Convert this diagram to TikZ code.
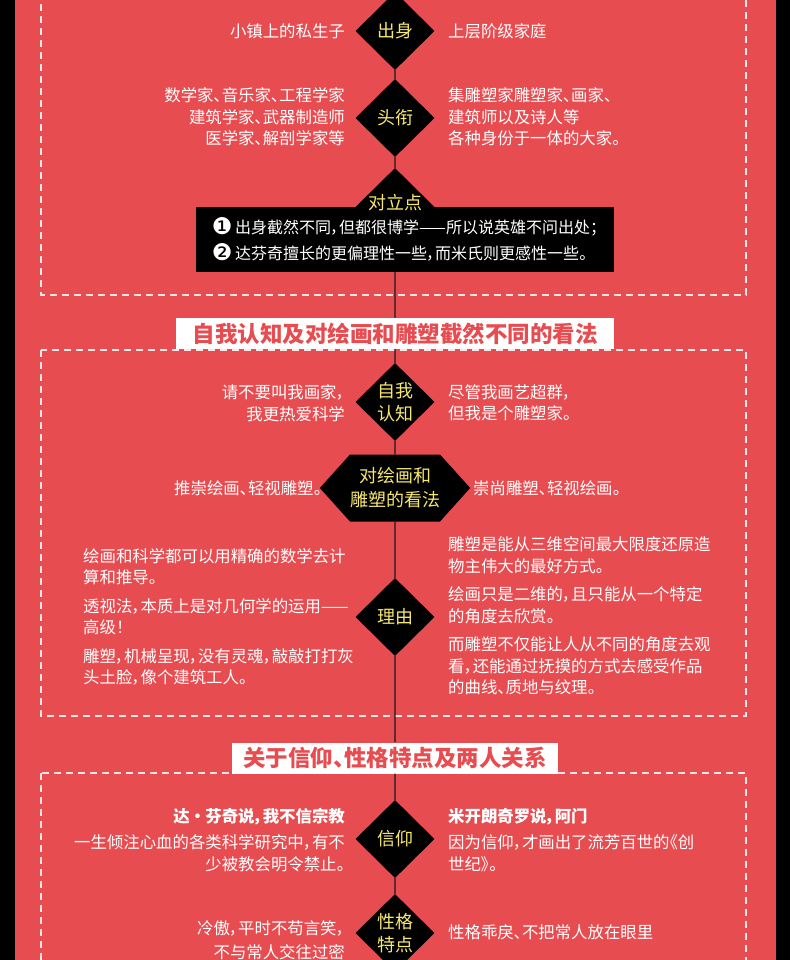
\documentclass[tikz,border=0pt]{standalone}
\usepackage{fontspec}
\setmainfont{Noto Sans CJK SC}[RawFeature=+palt]
\newfontfamily\numfont{DejaVu Sans}
\usepackage{tikz}
\usetikzlibrary{shapes.geometric,shapes.symbols}
\definecolor{bgred}{RGB}{231,76,80}
\definecolor{tipyel}{RGB}{246,232,110}
\definecolor{dashw}{RGB}{250,230,230}
\newcommand{\circnum}[1]{\raisebox{-1.5pt}{\numfont\fontsize{23}{23}\selectfont #1}}

\begin{document}
\begin{tikzpicture}[x=1pt,y=-1pt,
 gem/.style={diamond,fill=black,inner sep=0pt,minimum width=79pt,minimum height=78pt,text=tipyel,align=center,font=\fontsize{18}{23}\selectfont},
 hexa/.style={signal,signal to=west and east,signal pointer angle=96,fill=black,inner sep=0pt,minimum width=130pt,minimum height=67pt,text=tipyel,align=center,font=\fontsize{18}{24}\selectfont},
 lside/.style={anchor=east,inner sep=0pt,text=white,align=right,font=\fontsize{16.4}{21.5}\selectfont},
 rside/.style={anchor=west,inner sep=0pt,text=white,align=left,font=\fontsize{16.4}{21.5}\selectfont},
 banner/.style={fill=white,text=bgred,inner sep=0pt,minimum height=31pt,font=\fontsize{22.5}{26}\selectfont\bfseries},
 dashbox/.style={draw=dashw,line width=1.2pt,dash pattern=on 7pt off 5pt},
 wire/.style={line width=1.2pt,black!90}]
\useasboundingbox (0,0) rectangle (790,960);
\fill[black] (0,0) rectangle (790,960);
\fill[bgred] (15,0) rectangle (776,960);
\draw[dashbox] (41,-20) rectangle (746,295);
\draw[dashbox] (41,350) rectangle (746,716);
\draw[dashbox] (41,773) rectangle (746,990);
% first block
\node[gem] (cs) at (395,31) {出身};
\node[lside] (csl) at (345,31) {小镇上的私生子};
\node[rside] (csr) at (448,31) {上层阶级家庭};
\node[gem] (tx) at (395,118) {头衔};
\node[lside] (txl) at (345,117) {数学家、音乐家、工程学家\\建筑学家、武器制造师\\医学家、解剖学家等};
\node[rside] (txr) at (448,117) {集雕塑家雕塑家、画家、\\建筑师以及诗人等\\各种身份于一体的大家。};
\node[gem] (dl) at (395,207) {};
\node[fill=black,text=white,inner sep=0pt,minimum width=418pt,minimum height=65pt,align=left,font=\fontsize{16}{26}\selectfont] (db) at (405,239.5)
 {\circnum{❶}\,出身截然不同，但都很博学——所以说英雄不问出处；\\\circnum{❷}\,达芬奇擅长的更偏理性一些，而米氏则更感性一些。};
\node[text=tipyel,font=\fontsize{18}{23}\selectfont] (dlt) at (395,203) {对立点};
% second block
\node[banner,minimum width=438pt] (t1) at (395,333.5) {自我认知及对绘画和雕塑截然不同的看法};
\node[gem] (zw) at (395,402) {自我\\认知};
\node[lside] (zwl) at (345,403) {请不要叫我画家，\\我更热爱科学};
\node[rside] (zwr) at (448,403) {尽管我画艺超群，\\但我是个雕塑家。};
\node[hexa] (kf) at (395,488) {对绘画和\\雕塑的看法};
\node[lside] (kfl) at (322,488) {推崇绘画、轻视雕塑。};
\node[rside] (kfr) at (473,488) {崇尚雕塑、轻视绘画。};
\node[gem] (ly) at (395,617) {理由};
\node[rside] (lyl) at (83,617) {绘画和科学都可以用精确的数学去计\\算和推导。\\[7pt]透视法，本质上是对几何学的运用——\\高级！\\[7pt]雕塑，机械呈现，没有灵魂，敲敲打打灰\\头土脸，像个建筑工人。};
\node[rside] (lyr) at (448,616) {雕塑是能从三维空间最大限度还原造\\物主伟大的最好方式。\\[7pt]绘画只是二维的，且只能从一个特定\\的角度去欣赏。\\[7pt]而雕塑不仅能让人从不同的角度去观\\看，还能通过抚摸的方式去感受作品\\的曲线、质地与纹理。};
% third block
\node[banner,minimum width=326pt] (t2) at (395,758) {关于信仰、性格特点及两人关系};
\node[gem] (xy) at (395,839) {信仰};
\node[lside] (xyl) at (345,840) {{\bfseries 达\ ·\ 芬奇说，我不信宗教}\\[5pt]一生倾注心血的各类科学研究中，有不\\少被教会明令禁止。};
\node[rside] (xyr) at (448,840) {{\bfseries 米开朗奇罗说，阿门}\\[5pt]因为信仰，才画出了流芳百世的《创\\世纪》。};
\node[gem] (xg) at (395,933) {性格\\特点};
\node[lside] (xgl) at (345,940) {冷傲，平时不苟言笑，\\[3pt]不与常人交往过密};
\node[rside] (xgr) at (448,932) {性格乖戾、不把常人放在眼里};
\draw[wire] (cs)--(tx) (tx)--(dl) (dl |- db.south)--(t1) (t1)--(zw) (zw)--(kf);
\draw[wire] (kf)--(ly) (ly)--(t2) (t2)--(xy) (xy)--(xg);
\end{tikzpicture}
\end{document}
